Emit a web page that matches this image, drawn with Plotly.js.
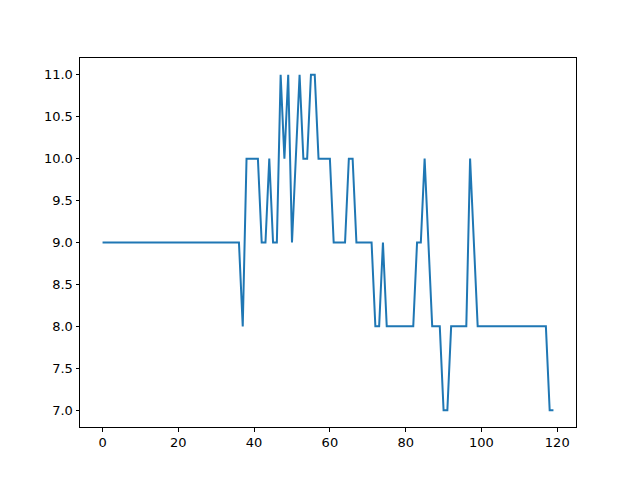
<!DOCTYPE html>
<html>
<head>
<meta charset="utf-8">
<script src="https://cdn.plot.ly/plotly-3.0.1.min.js"></script>
<style>html,body{margin:0;padding:0;background:#fff;}#chart{width:640px;height:480px;}</style>
</head>
<body>
<div id="chart"></div>
<script>
const values = [
  9,9,9,9,9,9,9,9,9,9,
  9,9,9,9,9,9,9,9,9,9,
  9,9,9,9,9,9,9,9,9,9,
  9,9,9,9,9,9,9,8,10,10,
  10,10,9,9,10,9,9,11,10,11,
  9,10,11,10,10,11,11,10,10,10,
  10,9,9,9,9,10,10,9,9,9,
  9,9,8,8,9,8,8,8,8,8,
  8,8,8,9,9,10,9,8,8,8,
  7,7,8,8,8,8,8,10,9,8,
  8,8,8,8,8,8,8,8,8,8,
  8,8,8,8,8,8,8,8,7,7
];
const xIndex = values.map((_, i) => i);
const xTicks = [0, 20, 40, 60, 80, 100, 120];
const yTicks = [7.0, 7.5, 8.0, 8.5, 9.0, 9.5, 10.0, 10.5, 11.0];

const axisCommon = {
  showline: true, mirror: true, linecolor: '#000', linewidth: 1,
  ticks: 'outside', ticklen: 3.5, tickwidth: 1, tickcolor: '#000',
  showgrid: false, zeroline: false,
  tickfont: {family: 'DejaVu Sans', size: 13, color: '#000'}
};

Plotly.newPlot('chart', [{
  x: xIndex, y: values, type: 'scatter', mode: 'lines',
  line: {color: '#1f77b4', width: 2}
}], {
  width: 640, height: 480,
  margin: {l: 80, r: 64, t: 58, b: 53},
  paper_bgcolor: '#fff', plot_bgcolor: '#fff',
  showlegend: false,
  xaxis: Object.assign({}, axisCommon, {range: [-5.95, 124.95], tickvals: xTicks, ticktext: xTicks.map(String)}),
  yaxis: Object.assign({}, axisCommon, {range: [6.8, 11.2], tickvals: yTicks, ticktext: yTicks.map(v => v.toFixed(1))})
}, {displayModeBar: false, staticPlot: true});
</script>
</body>
</html>
